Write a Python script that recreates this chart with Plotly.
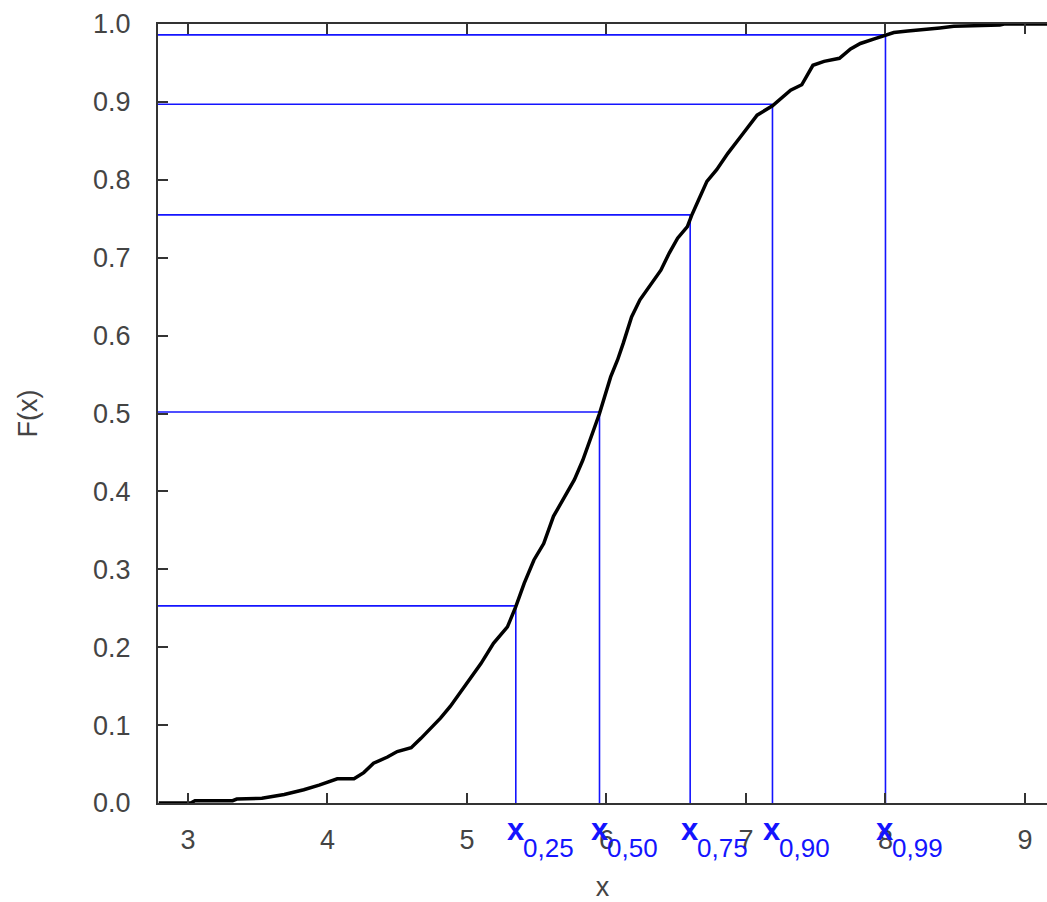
import plotly.graph_objects as go

ecdf_x = [2.79, 3.02, 3.05, 3.32, 3.35, 3.53, 3.69, 3.83, 3.94, 4.07, 4.19, 4.26, 4.33,
          4.43, 4.50, 4.60, 4.67, 4.76, 4.81, 4.88, 5.00, 5.10, 5.19, 5.29, 5.35, 5.41,
          5.48, 5.55, 5.62, 5.69, 5.77, 5.83, 5.89, 5.95, 6.03, 6.08, 6.12, 6.18, 6.24,
          6.32, 6.39, 6.45, 6.51, 6.58, 6.61, 6.66, 6.72, 6.79, 6.87, 6.96, 7.08, 7.19,
          7.32, 7.40, 7.48, 7.56, 7.67, 7.75, 7.82, 7.92, 8.00, 8.06, 8.16, 8.25, 8.39,
          8.49, 8.82, 8.85, 9.11, 9.16]
ecdf_y = [0.0, 0.0, 0.003, 0.003, 0.005, 0.006, 0.011, 0.017, 0.023, 0.031, 0.031, 0.039,
          0.051, 0.059, 0.066, 0.071, 0.083, 0.100, 0.109, 0.124, 0.154, 0.179, 0.205,
          0.226, 0.252, 0.282, 0.312, 0.333, 0.368, 0.389, 0.415, 0.440, 0.470, 0.500,
          0.547, 0.569, 0.590, 0.624, 0.646, 0.667, 0.684, 0.706, 0.725, 0.740, 0.754,
          0.774, 0.798, 0.813, 0.834, 0.855, 0.883, 0.895, 0.915, 0.922, 0.947, 0.952,
          0.956, 0.968, 0.975, 0.981, 0.986, 0.989, 0.991, 0.993, 0.995, 0.997, 0.9987,
          1.0, 1.0, 1.0]

# Quantiles
q_labels = ["0,25", "0,50", "0,75", "0,90", "0,99"]
q_x = [5.35, 5.95, 6.60, 7.19, 8.00]
q_F = [0.253, 0.502, 0.755, 0.897, 0.986]

x_range = [2.785, 9.158]
y_ticks = [round(i * 0.1, 1) for i in range(11)]
y_ticktext = [f"{v:.1f}" for v in y_ticks]
x_ticks = [3, 4, 5, 6, 7, 8, 9]

BLUE = "#1414ff"
GRAY = "#444444"
FONT = "Liberation Sans, Arial, sans-serif"

fig = go.Figure()

# horizontal guide lines
hx, hy = [], []
for qx, f in zip(q_x, q_F):
    hx += [x_range[0], qx, None]
    hy += [f, f, None]
fig.add_trace(go.Scatter(x=hx, y=hy, mode="lines", line=dict(color=BLUE, width=1.6),
                         hoverinfo="skip", showlegend=False))
# vertical guide lines
vx, vy = [], []
for qx, f in zip(q_x, q_F):
    vx += [qx, qx, None]
    vy += [0, f, None]
fig.add_trace(go.Scatter(x=vx, y=vy, mode="lines", line=dict(color=BLUE, width=1.6),
                         hoverinfo="skip", showlegend=False))

fig.add_trace(go.Scatter(x=ecdf_x, y=ecdf_y, mode="lines",
                         line=dict(color="black", width=3.5), showlegend=False))

for qx, lab in zip(q_x, q_labels):
    fig.add_annotation(x=qx, y=0, xref="x", yref="paper", text="<b>x</b>",
                       showarrow=False, xanchor="center", yanchor="middle",
                       yshift=-26, font=dict(family=FONT, size=31, color=BLUE))
    fig.add_annotation(x=qx, y=0, xref="x", yref="paper", text=lab,
                       showarrow=False, xanchor="left", yanchor="middle",
                       xshift=5, yshift=-45, font=dict(family=FONT, size=26, color=BLUE))

fig.update_layout(
    width=1047, height=902,
    margin=dict(l=158, r=0, t=24, b=99),
    paper_bgcolor="white", plot_bgcolor="white",
    font=dict(family=FONT, size=27, color=GRAY),
    xaxis=dict(range=x_range, tickvals=x_ticks, ticks="inside", ticklen=10, tickwidth=1.5,
               tickcolor="#333333", showline=True, linecolor="#333333", linewidth=2,
               mirror="ticks", showgrid=False, zeroline=False,
               tickfont=dict(size=27, color=GRAY), ticklabelstandoff=12,
               title=dict(text="x", font=dict(size=27, color=GRAY), standoff=28)),
    yaxis=dict(range=[0, 1], tickvals=y_ticks, ticktext=y_ticktext, ticks="inside",
               ticklen=10, tickwidth=1.5, tickcolor="#333333", showline=True,
               linecolor="#333333", linewidth=2, showgrid=False, zeroline=False,
               tickfont=dict(size=27, color=GRAY), ticklabelstandoff=20,
               title=dict(text="F(x)", font=dict(size=27, color=GRAY), standoff=48)),
)

fig.write_html("out.html")
